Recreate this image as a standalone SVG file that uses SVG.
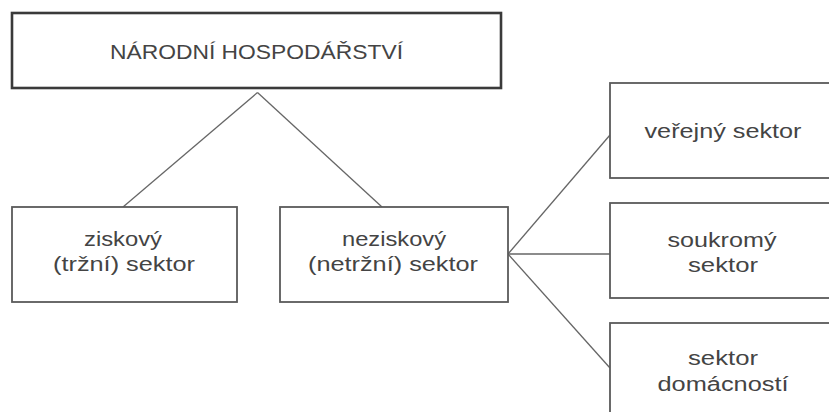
<svg xmlns="http://www.w3.org/2000/svg" width="829" height="412" viewBox="0 0 829 412">
<style>
.bx{fill:#fff;stroke:#5a5a5a;stroke-width:1.8}
.top{fill:#fff;stroke:#3a3a3a;stroke-width:2.6}
.t{font-family:"Liberation Sans",Arial,sans-serif;font-size:20px;fill:#444;text-anchor:middle}
.c{stroke:#666;stroke-width:1.3;fill:none}
</style>
<rect width="829" height="412" fill="#fff"/>
<g id="connectors">
<line class="c" x1="257.5" y1="92.5" x2="123" y2="207"/>
<line class="c" x1="257.5" y1="92.5" x2="382" y2="207"/>
<line class="c" x1="508" y1="254" x2="610" y2="135"/>
<line class="c" x1="508" y1="254" x2="610" y2="254"/>
<line class="c" x1="508" y1="254" x2="610" y2="368"/>
</g>
<g id="narodni">
<rect class="top" x="12" y="13" width="489" height="75"/>
<text class="t" x="256.5" y="59" textLength="293" lengthAdjust="spacingAndGlyphs">NÁRODNÍ HOSPODÁŘSTVÍ</text>
</g>
<g id="ziskovy">
<rect class="bx" x="12" y="207" width="225" height="95"/>
<text class="t" x="123" y="246" textLength="78" lengthAdjust="spacingAndGlyphs">ziskový</text>
<text class="t" x="124" y="271" textLength="142" lengthAdjust="spacingAndGlyphs">(tržní) sektor</text>
</g>
<g id="neziskovy">
<rect class="bx" x="280" y="207" width="228" height="95"/>
<text class="t" x="394" y="246" textLength="104" lengthAdjust="spacingAndGlyphs">neziskový</text>
<text class="t" x="393" y="271" textLength="170" lengthAdjust="spacingAndGlyphs">(netržní) sektor</text>
</g>
<g id="verejny">
<rect class="bx" x="610" y="83" width="226" height="95"/>
<text class="t" x="723" y="138" textLength="157" lengthAdjust="spacingAndGlyphs">veřejný sektor</text>
</g>
<g id="soukromy">
<rect class="bx" x="610" y="203" width="226" height="95"/>
<text class="t" x="722" y="247" textLength="109" lengthAdjust="spacingAndGlyphs">soukromý</text>
<text class="t" x="723" y="272" textLength="70" lengthAdjust="spacingAndGlyphs">sektor</text>
</g>
<g id="domacnosti">
<rect class="bx" x="610" y="323" width="226" height="95"/>
<text class="t" x="723" y="365" textLength="70" lengthAdjust="spacingAndGlyphs">sektor</text>
<text class="t" x="723" y="391" textLength="131" lengthAdjust="spacingAndGlyphs">domácností</text>
</g>
</svg>
